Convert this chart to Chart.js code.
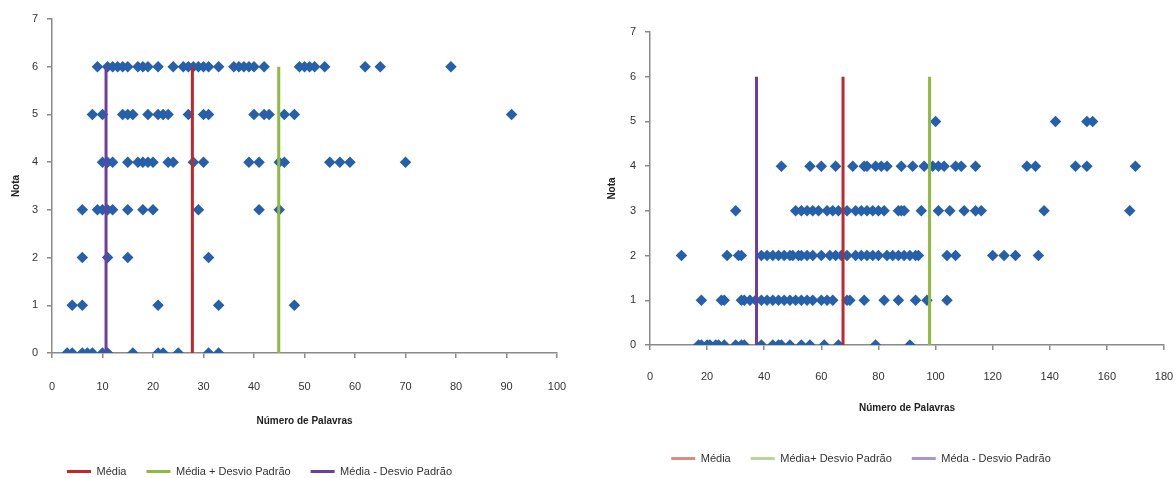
<!DOCTYPE html>
<html><head><meta charset="utf-8">
<script src="https://cdn.jsdelivr.net/npm/chart.js@4"></script>
<style>
html,body{margin:0;padding:0;background:#fff;overflow:hidden;width:1175px;height:478px;position:relative;}
#c1{position:absolute;left:0;top:0;}
#c2{position:absolute;left:590px;top:0;}
</style></head><body>
<canvas id="c1" width="580" height="487"></canvas>
<canvas id="c2" width="585" height="474"></canvas>
<script>
// ---- Data: word counts (Número de Palavras) per grade (Nota) ----
const grades = [0, 1, 2, 3, 4, 5, 6];
// Left chart
const left0 = [3, 4, 6, 7, 8, 10, 11, 16, 21, 22, 25, 31, 33];
const left1 = [4, 6, 21, 33, 48];
const left2 = [6, 11, 15, 31];
const left3 = [6, 9, 10, 11, 12, 15, 18, 20, 29, 41, 45];
const left4 = [10, 11, 12, 15, 17, 18, 19, 20, 23, 24, 28, 30, 39, 41, 45, 46, 55, 57, 59, 70];
const left5 = [8, 10, 14, 15, 16, 19, 21, 22, 23, 27, 30, 31, 40, 42, 43, 46, 48, 91];
const left6 = [9, 11, 12, 13, 14, 15, 17, 18, 19, 21, 24, 26, 27, 28, 29, 30, 31, 33, 36, 37, 38, 39, 40, 42, 49, 50, 51, 52, 54, 62, 65, 79];
const leftStats = [27.8, 44.9, 10.7]; // média, média+dp, média-dp
const leftTop = 6;
// Right chart
const right0 = [17, 18, 20, 21, 23, 24, 26, 30, 32, 33, 39, 43, 45, 46, 49, 53, 56, 61, 66, 79, 91];
const right1 = [18, 25, 26, 32, 33, 35, 37, 39, 41, 43, 45, 47, 49, 51, 53, 55, 57, 60, 62, 64, 69, 70, 75, 82, 87, 93, 97, 104];
const right2 = [11, 27, 31, 32, 39, 41, 43, 45, 47, 49, 50, 52, 53, 55, 57, 60, 63, 65, 67, 69, 72, 74, 76, 78, 80, 83, 85, 87, 89, 91, 93, 94, 104, 107, 120, 124, 128, 136];
const right3 = [30, 51, 53, 55, 57, 59, 62, 64, 66, 69, 72, 74, 76, 78, 80, 82, 87, 88, 89, 95, 101, 105, 110, 114, 116, 138, 168];
const right4 = [46, 56, 60, 65, 71, 75, 76, 79, 81, 83, 88, 92, 96, 99, 101, 103, 107, 109, 114, 132, 135, 149, 153, 170];
const right5 = [100, 142, 153, 155];
const right6 = [];
const rightStats = [67.6, 97.9, 37.3];
const rightTop = 6;
// Labels
const xTitle = 'Número de Palavras';
const yTitle = 'Nota';
const leftLegend = ['Média', 'Média + Desvio Padrão', 'Média - Desvio Padrão'];
const rightLegend = ['Média', 'Média+ Desvio Padrão', 'Méda - Desvio Padrão'];

const FONT = "'Liberation Sans', Arial, sans-serif";
const lineColors = ['#C0282D', '#8DBA3F', '#6E3E9E'];
const paleColors = ['#D98A8A', '#BCD49A', '#A897C8'];

function toPoints(rows) {
  const pts = [];
  rows.forEach((row, g) => row.forEach(x => pts.push({x: x, y: grades[g]})));
  return pts;
}

function makeChart(id, cfg) {
  const lines = cfg.stats.map((v, i) => ({
    label: cfg.legend[i],
    data: [{x: v, y: 0}, {x: v, y: cfg.top}],
    showLine: true,
    borderColor: lineColors[i],
    backgroundColor: lineColors[i],
    borderWidth: 3,
    pointRadius: 0,
    order: 0
  }));
  const scatter = {
    label: 'Notas',
    data: toPoints(cfg.rows),
    pointStyle: 'rectRot',
    pointRadius: 5.75,
    backgroundColor: '#2660AB',
    borderColor: '#2660AB',
    borderWidth: 0,
    order: 1
  };
  const shift = {
    id: 'legendShift',
    afterLayout(chart) {
      const l = chart.legend;
      if (l) { l.left += cfg.legendDx; l.right += cfg.legendDx; }
    }
  };
  return new Chart(document.getElementById(id), {
    type: 'scatter',
    data: {datasets: [...lines, scatter]},
    plugins: [shift],
    options: {
      responsive: false,
      animation: false,
      devicePixelRatio: 1,
      events: [],
      layout: {padding: {left: 0, right: cfg.padRight, top: cfg.padTop, bottom: 0}},
      plugins: {
        tooltip: {enabled: false},
        legend: {
          position: 'bottom',
          labels: {
            filter: item => item.datasetIndex < 3,
            usePointStyle: true,
            pointStyle: 'line',
            pointStyleWidth: 24,
            padding: 20,
            color: '#333',
            font: {family: FONT, size: 11},
            generateLabels: chart => {
              const items = Chart.defaults.plugins.legend.labels.generateLabels(chart);
              items.forEach(it => {
                if (it.datasetIndex < 3) {
                  it.strokeStyle = cfg.legendColors[it.datasetIndex];
                  it.lineWidth = 3;
                }
              });
              return items;
            }
          }
        }
      },
      scales: {
        x: {
          type: 'linear', min: 0, max: cfg.xMax,
          ticks: {stepSize: cfg.xStep, padding: cfg.xTickPad, color: '#333', font: {family: FONT, size: 11}},
          grid: {drawOnChartArea: false, drawTicks: true, tickLength: 5, color: '#8A8A8A', lineWidth: 1.5},
          border: {color: '#8A8A8A', width: 1.5},
          title: {display: true, text: xTitle, color: '#222', font: {family: FONT, size: 10, weight: 'bold'}, padding: {top: 0, bottom: 19}},
          afterFit: s => { s.height = cfg.xHeight; s.paddingLeft = 0; s.paddingRight = 0; }
        },
        y: {
          type: 'linear', min: 0, max: 7,
          ticks: {stepSize: 1, padding: 9, color: '#333', font: {family: FONT, size: 11}},
          grid: {drawOnChartArea: false, drawTicks: true, tickLength: 5, color: '#8A8A8A', lineWidth: 1.5},
          border: {color: '#8A8A8A', width: 1.5},
          title: {display: true, text: yTitle, color: '#222', font: {family: FONT, size: 10, weight: 'bold'}, padding: {top: cfg.yTitlePad, bottom: 0}},
          afterFit: s => { s.width = cfg.yWidth; }
        }
      }
    }
  });
}

makeChart('c1', {
  rows: [left0, left1, left2, left3, left4, left5, left6],
  stats: leftStats, top: leftTop, legend: leftLegend, legendColors: lineColors,
  xMax: 100, xStep: 10, padRight: 23, padTop: 19, xHeight: 93, xTickPad: 22,
  yWidth: 52, yTitlePad: 10, legendDx: -19
});
makeChart('c2', {
  rows: [right0, right1, right2, right3, right4, right5, right6],
  stats: rightStats, top: rightTop, legend: rightLegend, legendColors: paleColors,
  xMax: 180, xStep: 20, padRight: 11, padTop: 32, xHeight: 88, xTickPad: 20,
  yWidth: 60, yTitlePad: 16, legendDx: -16
});
</script>
</body></html>
